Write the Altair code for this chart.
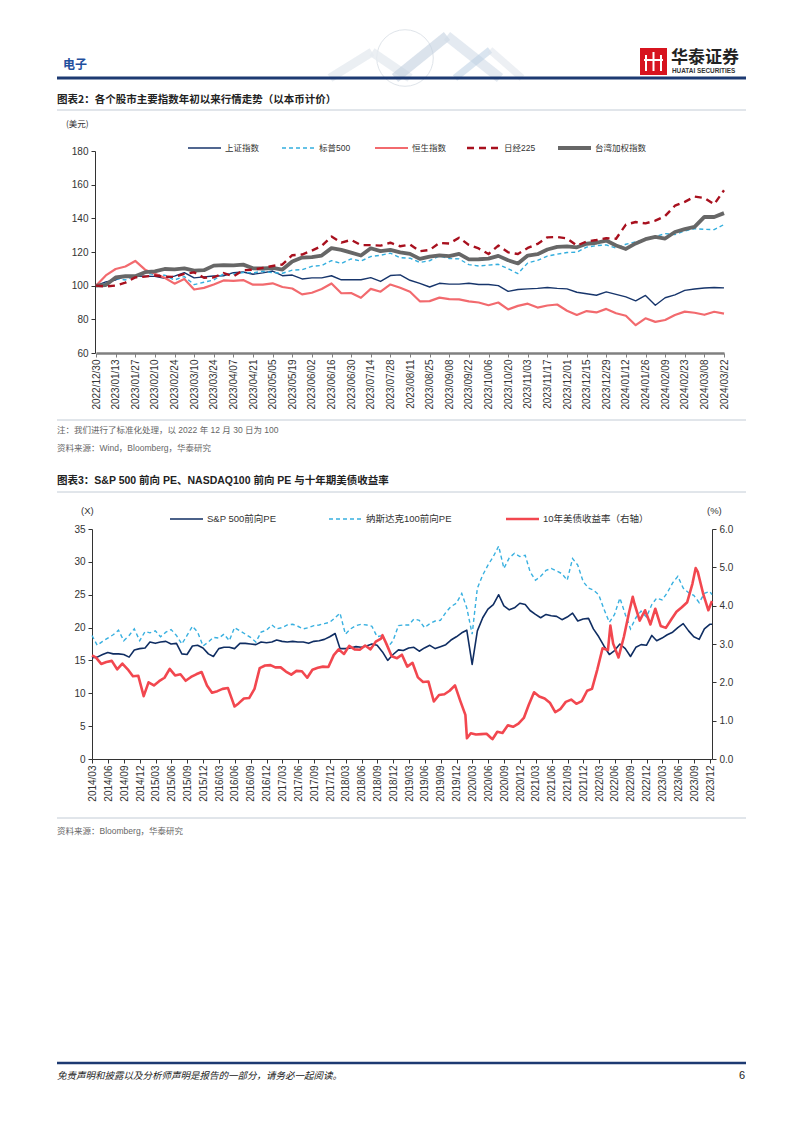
import altair as alt
import pandas as pd

PAGE_W, PAGE_H = 786, 1117
M = 8  # page margin: page coordinate -> view coordinate

CJK = "'Noto Sans CJK SC', sans-serif"
MIX = "'Liberation Sans', 'Noto Sans CJK SC', sans-serif"
NUM = "'Liberation Sans', Arial, sans-serif"

# ------------------------------------------------------------------ chart 1 data
c1_names = ["上证指数", "标普500", "恒生指数", "日经225", "台湾加权指数"]
c1_colors = ["#17356b", "#33aede", "#f26a6e", "#a8101e", "#676767"]
c1_dates = pd.date_range("2022-12-30", periods=65, freq="7D").strftime("%Y-%m-%d").tolist()
c1_ticks = pd.date_range("2022-12-30", periods=33, freq="14D")

sh_vals = [100.0, 102.2, 103.4, 105.7, 105.7, 105.6, 105.5, 104.4, 105.7, 107.7,
           104.6, 105.2, 105.7, 105.9, 107.7, 108.1, 106.8, 107.6, 108.7, 105.9,
           106.3, 104.0, 104.6, 104.6, 105.9, 103.5, 103.6, 103.5, 104.8, 102.5,
           106.0, 106.4, 103.2, 101.4, 99.2, 101.4, 100.9, 100.9, 101.4, 100.7,
           100.7, 100.0, 96.6, 97.7, 98.1, 98.4, 98.9, 98.4, 98.1, 96.1,
           95.2, 94.3, 96.3, 94.8, 93.3, 91.0, 94.2, 88.4, 92.8, 94.5,
           97.2, 98.0, 98.6, 98.9, 98.7]
spx_vals = [100.0, 101.4, 104.2, 103.4, 106.0, 107.7, 106.5, 106.2, 103.4, 105.4,
            100.6, 102.0, 103.4, 107.0, 106.9, 107.8, 107.6, 108.6, 107.7, 107.4,
            109.2, 109.5, 111.5, 112.0, 114.9, 113.2, 115.9, 114.6, 117.3, 118.1,
            119.3, 116.6, 116.3, 113.8, 114.8, 117.6, 116.1, 115.9, 112.5, 111.7,
            112.2, 112.7, 110.0, 107.2, 113.5, 115.0, 117.6, 118.7, 119.7, 119.9,
            122.9, 123.8, 124.2, 122.3, 124.6, 126.0, 127.4, 129.2, 130.9, 130.4,
            132.5, 133.8, 133.5, 133.3, 136.3]
hsi_vals = [100.0, 106.1, 109.9, 111.4, 114.7, 109.5, 107.1, 104.7, 101.2, 104.0,
            97.7, 98.7, 100.7, 103.1, 102.8, 103.3, 100.6, 100.6, 101.4, 99.2,
            98.3, 94.8, 95.8, 98.0, 101.3, 95.5, 95.6, 92.8, 98.1, 96.4,
            100.7, 98.8, 96.4, 90.7, 90.8, 92.9, 92.0, 91.9, 90.7, 90.0,
            88.4, 90.0, 85.9, 88.0, 89.3, 87.0, 88.2, 88.8, 85.1, 82.6,
            84.9, 84.1, 86.2, 83.6, 82.1, 76.5, 80.6, 78.5, 79.6, 82.6,
            84.6, 83.9, 82.7, 84.5, 83.4]
n225_vals = [100.0, 99.5, 100.1, 101.8, 104.9, 105.4, 106.0, 105.4, 105.2, 107.0,
             107.9, 104.7, 104.9, 107.5, 105.5, 109.2, 109.5, 110.6, 111.7, 112.6,
             118.1, 118.5, 120.8, 123.6, 129.2, 125.6, 127.2, 124.1, 124.1, 123.8,
             125.5, 123.4, 124.4, 120.5, 121.2, 125.4, 125.0, 128.5, 124.2, 122.1,
             118.8, 123.8, 119.8, 118.8, 122.4, 124.8, 128.7, 128.9, 128.1, 123.8,
             126.3, 127.1, 128.2, 127.9, 136.3, 137.8, 137.0, 138.6, 141.4, 147.5,
             149.8, 152.9, 152.1, 148.3, 156.7]
twii_vals = [100.0, 100.4, 104.9, 105.6, 105.6, 108.0, 108.5, 109.9, 109.7, 110.3,
             108.9, 109.2, 111.9, 112.2, 112.0, 112.5, 110.3, 110.2, 110.5, 109.6,
             114.4, 116.7, 117.0, 117.9, 122.3, 121.3, 119.6, 117.9, 122.2, 120.5,
             121.3, 119.8, 118.9, 115.9, 117.3, 118.0, 117.5, 118.9, 115.6, 115.7,
             116.1, 117.7, 115.1, 113.2, 117.9, 118.7, 121.5, 123.0, 123.4, 122.8,
             124.9, 125.5, 126.8, 123.9, 121.8, 125.1, 127.6, 129.0, 128.0, 131.9,
             133.6, 134.9, 140.9, 140.8, 143.1]
c1_values = [sh_vals, spx_vals, hsi_vals, n225_vals, twii_vals]

# ------------------------------------------------------------------ chart 2 data
c2_names = ["S&P 500前向PE", "纳斯达克100前向PE", "10年美债收益率（右轴）"]
c2_colors = ["#0f2d62", "#38b0e0", "#f2474f"]
pe_dates = [(pd.Timestamp("2014-04-08") + pd.DateOffset(months=m)).strftime("%Y-%m-%d")
            for m in range(118)] + ["2024-01-21"]
spx_pe = [15.4, 15.5, 15.9, 16.2, 16.0, 16.0, 15.9, 15.5, 16.6, 16.8,
          16.9, 17.8, 17.6, 17.8, 17.9, 17.5, 17.6, 16.0, 15.9, 17.2, 17.3, 16.9,
          16.0, 15.6, 16.8, 17.0, 17.0, 16.8, 17.6, 17.6, 17.5, 17.4, 17.8, 17.7,
          17.8, 18.1, 17.9, 17.8, 17.9, 17.8, 17.8, 17.6, 17.9, 18.0, 18.2, 18.6,
          19.1, 16.8, 16.8, 16.9, 17.1, 17.0, 17.2, 17.5, 17.3, 16.3, 15.0, 15.9,
          16.6, 16.5, 16.9, 17.0, 16.4, 16.9, 17.3, 16.8, 17.1, 17.4, 18.1, 18.6,
          19.2, 19.6, 14.4, 19.5, 21.5, 22.8, 23.5, 25.0, 23.3, 22.7, 23.0, 23.7,
          23.5, 22.6, 22.0, 21.5, 22.0, 21.8, 21.7, 21.2, 21.6, 22.2, 21.0, 21.3,
          21.4, 19.8, 18.6, 17.2, 15.9, 16.5, 17.5, 16.8, 15.6, 17.0, 17.4, 17.3,
          18.8, 18.0, 18.4, 18.9, 19.3, 20.0, 20.6, 19.5, 18.6, 18.2, 19.8, 20.5,
          20.5]
ndx_pe = [18.8, 17.3, 17.9, 18.4, 18.9, 19.6, 18.0, 18.8, 19.8, 18.0,
          19.4, 19.2, 19.5, 18.6, 19.3, 19.7, 18.8, 17.5, 18.8, 20.2, 19.3, 17.2,
          17.8, 18.5, 18.4, 19.0, 18.0, 20.0, 19.5, 19.0, 18.5, 17.8, 19.3, 19.6,
          20.4, 19.8, 20.0, 20.4, 20.5, 20.2, 19.8, 20.0, 20.3, 20.4, 20.6, 20.8,
          21.5, 22.2, 19.0, 19.8, 20.3, 20.5, 20.4, 20.2, 18.6, 18.8, 17.0, 18.0,
          20.3, 20.4, 20.4, 21.3, 21.1, 20.0, 20.6, 21.0, 21.1, 22.3, 23.2, 23.7,
          25.2, 23.0, 19.0, 26.0, 28.0, 29.5, 30.8, 32.4, 29.0, 30.6, 31.3, 30.8,
          31.0, 28.5, 27.2, 27.8, 28.7, 29.0, 28.6, 28.2, 27.2, 30.5, 29.5, 27.0,
          26.0, 25.7, 25.0, 22.8, 20.8, 22.0, 24.5, 22.0, 19.8, 21.5, 22.5, 21.6,
          23.5, 24.5, 24.2, 25.3, 26.8, 27.8, 26.0, 25.3, 24.9, 23.8, 25.2, 25.5,
          25.0]
yld_dates = (["2014-04-08"]
             + (pd.date_range("2014-05-01", periods=117, freq="MS") - pd.Timedelta(days=1)).strftime("%Y-%m-%d").tolist()
             + ["2024-01-21"])
yld_vals = [2.70,
            2.65, 2.48, 2.53, 2.56, 2.34, 2.49, 2.34, 2.16, 2.17,
            1.64, 2.00, 1.92, 2.03, 2.12, 2.35, 2.18, 2.21, 2.04, 2.14, 2.21, 2.27,
            1.92, 1.73, 1.77, 1.83, 1.85, 1.47, 1.45, 1.58, 1.59, 1.83, 2.37, 2.44,
            2.45, 2.39, 2.39, 2.28, 2.20, 2.30, 2.29, 2.12, 2.33, 2.38, 2.41, 2.40,
            2.71, 2.86, 2.74, 2.95, 2.86, 2.85, 2.96, 2.86, 3.06, 3.14, 3.01, 2.68,
            2.63, 2.72, 2.41, 2.51, 2.13, 2.01, 2.02, 1.50, 1.67, 1.69, 1.78, 1.92,
            1.51, 1.15, 0.67, 0.64, 0.65, 0.66, 0.53, 0.71, 0.68, 0.88, 0.84, 0.92,
            1.07, 1.41, 1.74, 1.63, 1.58, 1.47, 1.22, 1.31, 1.49, 1.55, 1.44, 1.51,
            1.78, 1.83, 2.34, 2.89, 2.84, 3.01, 2.65, 3.19, 3.83, 4.05, 3.61, 3.88,
            3.51, 3.92, 3.47, 3.42, 3.64, 3.84, 3.96, 4.09, 4.57, 4.88, 4.33, 3.88,
            4.12]
yld_extra_dates = ["2016-07-08", "2018-11-08", "2020-03-09", "2020-08-04",
                   "2022-06-14", "2022-10-21", "2023-10-19"]
yld_extra_vals = [1.37, 3.23, 0.54, 0.52, 3.48, 4.23, 4.98]
c2_ticks = [pd.Timestamp("2014-04-10") + pd.DateOffset(months=3 * k) for k in range(40)]

# ------------------------------------------------------------------ helpers
blank = alt.Data(values=[{"a": 1}])


def dt(ts):
    ts = pd.Timestamp(ts)
    return alt.DateTime(year=ts.year, month=ts.month, date=ts.day, utc=True)


def txt(s, x, y, size=9, color="#222222", weight="normal", font=CJK, align="left", style="normal"):
    return alt.Chart(blank).mark_text(
        text=s, align=align, baseline="middle", fontSize=size, color=color,
        fontWeight=weight, font=font, fontStyle=style
    ).encode(x=alt.value(x - M), y=alt.value(y - M))


def seg(x1, y1, x2, y2, color, width=1.0, dash=None, opacity=1.0, cap="butt"):
    kw = dict(color=color, strokeWidth=width, opacity=opacity, strokeCap=cap)
    if dash:
        kw["strokeDash"] = dash
    return alt.Chart(blank).mark_rule(**kw).encode(
        x=alt.value(x1 - M), y=alt.value(y1 - M), x2=alt.value(x2 - M), y2=alt.value(y2 - M))


def box(x1, y1, x2, y2, color):
    return alt.Chart(blank).mark_rect(color=color).encode(
        x=alt.value(x1 - M), y=alt.value(y1 - M), x2=alt.value(x2 - M), y2=alt.value(y2 - M))


layers = []

# ------------------------------------------------------------------ page decoration
# faint globe / mountain watermark in the header
layers.append(alt.Chart(blank).mark_point(shape="circle", filled=False, color="#d3dae2", strokeWidth=1, opacity=0.7)
              .encode(x=alt.value(405 - M), y=alt.value(58 - M), size=alt.value(3200)))
layers += [
    seg(330, 78, 372, 52, "#e6ebf0", 9, opacity=0.8),
    seg(372, 52, 410, 78, "#e6ebf0", 9, opacity=0.8),
    seg(395, 78, 447, 36, "#c3d1e0", 10, opacity=0.6),
    seg(447, 36, 500, 78, "#d2dce8", 10, opacity=0.6),
    seg(455, 78, 490, 50, "#b5cbe2", 7, opacity=0.5),
    seg(490, 50, 522, 78, "#dbe2ea", 7, opacity=0.5),
]
layers += [
    txt("电子", 63, 65, size=12, color="#1f4f9d", weight="bold"),
    box(640, 48, 667, 75, "#d7141f"),
    seg(646, 55, 646, 71, "white", 2),
    seg(653.5, 52, 653.5, 71, "white", 2),
    seg(661, 55, 661, 71, "white", 2),
    seg(644, 60, 663, 60, "white", 2),
    txt("华泰证券", 671, 58, size=17, color="#222222", weight="bold"),
    txt("HUATAI SECURITIES", 672, 71, size=6.4, color="#333333", weight="bold", font=NUM),
    seg(57, 78, 746, 78, "#1d3a72", 3),
    # chart 1 header
    txt("图表2：各个股市主要指数年初以来行情走势（以本币计价）", 57, 100, size=10.5, weight="bold"),
    seg(57, 110, 746, 110, "#c3ccd6", 1),
    txt("(美元)", 66, 124, size=8.5, color="#333333"),
    # chart 1 footnotes
    seg(57, 420, 746, 420, "#c3ccd6", 1),
    txt("注：我们进行了标准化处理，以 2022 年 12 月 30 日为 100", 57, 430, size=8.5, color="#666666", font=MIX),
    txt("资料来源：Wind，Bloomberg，华泰研究", 57, 448, size=8.5, color="#666666", font=MIX),
    # chart 2 header
    txt("图表3：S&P 500 前向 PE、NASDAQ100 前向 PE 与十年期美债收益率", 57, 481, size=10.5, weight="bold", font=MIX),
    seg(57, 492, 746, 492, "#c3ccd6", 1),
    txt("(X)", 81, 511, size=9.5, color="#333333", font=NUM),
    txt("(%)", 707, 511, size=9.5, color="#333333", font=NUM),
    seg(57, 818, 746, 818, "#c3ccd6", 1),
    txt("资料来源：Bloomberg，华泰研究", 57, 831, size=8.5, color="#666666", font=MIX),
    # page footer
    seg(57, 1063, 746, 1063, "#1d3a72", 2.5),
    txt("免责声明和披露以及分析师声明是报告的一部分，请务必一起阅读。", 57, 1076, size=9.5, color="#222222", style="italic"),
    txt("6", 745, 1076, size=11, color="#222222", font=NUM, align="right"),
]

# ------------------------------------------------------------------ legends
c1_legend_x = [188, 282, 375, 467, 558]
c1_styles = [dict(w=1.4, d=None), dict(w=1.4, d=[4, 3]), dict(w=2.2, d=None),
             dict(w=2.4, d=[7, 5]), dict(w=3.8, d=None)]
for name, col, lx, st in zip(c1_names, c1_colors, c1_legend_x, c1_styles):
    layers.append(seg(lx, 148, lx + 33, 148, col, st["w"], st["d"]))
    layers.append(txt(name, lx + 37, 148, size=8.5, color="#333333", font=MIX))

c2_legend_x = [170, 329, 506]
c2_styles = [dict(w=1.6, d=None), dict(w=1.4, d=[4, 3]), dict(w=2.6, d=None)]
for name, col, lx, st in zip(c2_names, c2_colors, c2_legend_x, c2_styles):
    layers.append(seg(lx, 519, lx + 33, 519, col, st["w"], st["d"]))
    layers.append(txt(name, lx + 37, 519, size=9.5, color="#333333", font=MIX))

# ------------------------------------------------------------------ chart 1 (lines)
c1_rows = []
for name, vals in zip(c1_names, c1_values):
    for d, v in zip(c1_dates, vals):
        c1_rows.append({"date": d, "series": name, "value": v})
df1 = pd.DataFrame(c1_rows)

x1_scale = alt.Scale(domain=[dt("2022-12-30"), dt("2024-03-22")], range=[96 - M, 724 - M], nice=False)
y1_scale = alt.Scale(domain=[60, 180], range=[353 - M, 151 - M], nice=False, zero=False)

x1_axis = alt.Axis(orient="bottom", offset=(353 - M) - PAGE_H, values=[dt(t) for t in c1_ticks],
                   labelExpr="utcFormat(datum.value, '%Y/%m/%d')", labelAngle=-90, labelFont=NUM,
                   labelFontSize=10, labelColor="#333333", domainColor="#808080", domainWidth=2.5,
                   tickColor="#808080", tickSize=4, tickWidth=1, labelPadding=2, grid=False, title=None,
                   labelOverlap=False, labelFlush=False, labelBound=False)
y1_axis = alt.Axis(orient="left", offset=-(95 - M), values=[60, 80, 100, 120, 140, 160, 180],
                   labelFont=NUM, labelFontSize=10, labelColor="#333333", domainColor="#333333",
                   domainWidth=1, tickColor="#333333", tickSize=4, labelPadding=3, grid=False,
                   title=None, labelFlush=False, labelOverlap=False)

draw_order = ["上证指数", "标普500", "恒生指数", "台湾加权指数", "日经225"]
for i, name in enumerate(draw_order):
    k = c1_names.index(name)
    st = c1_styles[k]
    mk = dict(color=c1_colors[k], strokeWidth=st["w"], strokeJoin="round")
    if st["d"]:
        mk["strokeDash"] = st["d"]
    first = i == 0
    layers.append(
        alt.Chart(df1).transform_filter(alt.datum.series == name).mark_line(**mk).encode(
            x=alt.X("date:T", scale=x1_scale, axis=x1_axis if first else None),
            y=alt.Y("value:Q", scale=y1_scale, axis=y1_axis if first else None),
        )
    )

# ------------------------------------------------------------------ chart 2 (lines)
df_pe = pd.DataFrame({"date": pe_dates * 2,
                      "series": [c2_names[0]] * len(pe_dates) + [c2_names[1]] * len(pe_dates),
                      "value": spx_pe + ndx_pe})
df_y = pd.DataFrame({"date": yld_dates + yld_extra_dates, "value": yld_vals + yld_extra_vals})
df_y = df_y.sort_values("date").reset_index(drop=True)

x2_scale = alt.Scale(domain=[dt("2014-04-08"), dt("2024-01-21")], range=[92 - M, 712 - M], nice=False)
yl_scale = alt.Scale(domain=[0, 35], range=[759 - M, 529 - M], nice=False)
yr_scale = alt.Scale(domain=[0, 6], range=[759 - M, 529 - M], nice=False)

x2_axis = alt.Axis(orient="bottom", offset=(759 - M) - PAGE_H, values=[dt(t) for t in c2_ticks],
                   labelExpr="utcFormat(utc(utcyear(datum.value), utcmonth(datum.value) - 1, 1), '%Y/%m')",
                   labelAngle=-90, labelFont=NUM, labelFontSize=10, labelColor="#333333",
                   domainColor="#333333", domainWidth=1, tickColor="#333333", tickSize=4,
                   labelPadding=2, grid=False, title=None, labelOverlap=False, labelFlush=False,
                   labelBound=False)
yl_axis = alt.Axis(orient="left", offset=-(92 - M), values=[0, 5, 10, 15, 20, 25, 30, 35],
                   labelFont=NUM, labelFontSize=10, labelColor="#333333", domainColor="#333333",
                   tickColor="#333333", tickSize=4, labelPadding=3, grid=False, title=None,
                   labelFlush=False, labelOverlap=False)
yr_axis = alt.Axis(orient="right", offset=(712 - M) - PAGE_W, values=[0, 1, 2, 3, 4, 5, 6],
                   format=".1f", labelFont=NUM, labelFontSize=10, labelColor="#333333",
                   domainColor="#333333", tickColor="#333333", tickSize=4, labelPadding=3,
                   grid=False, title=None, labelFlush=False, labelOverlap=False)

layers.append(
    alt.Chart(df_pe).transform_filter(alt.datum.series == c2_names[0])
    .mark_line(color=c2_colors[0], strokeWidth=1.6, strokeJoin="round").encode(
        x=alt.X("date:T", scale=x2_scale, axis=x2_axis),
        y=alt.Y("value:Q", scale=yl_scale, axis=yl_axis),
    )
)
layers.append(
    alt.Chart(df_pe).transform_filter(alt.datum.series == c2_names[1])
    .mark_line(color=c2_colors[1], strokeWidth=1.4, strokeDash=[4, 3]).encode(
        x=alt.X("date:T", scale=x2_scale, axis=None),
        y=alt.Y("value:Q", scale=yl_scale, axis=None),
    )
)
layers.append(
    alt.Chart(df_y).mark_line(color=c2_colors[2], strokeWidth=2.6, strokeJoin="round").encode(
        x=alt.X("date:T", scale=x2_scale, axis=None),
        y=alt.Y("value:Q", scale=yr_scale, axis=yr_axis),
    )
)

chart = (
    alt.layer(*layers)
    .resolve_scale(x="independent", y="independent", size="independent")
    .properties(width=PAGE_W, height=PAGE_H, autosize=alt.AutoSizeParams(type="none"), padding=0,
                background="white")
    .configure_view(stroke=None)
)

chart.save("out.html", embed_options={"renderer": "svg", "actions": False})
